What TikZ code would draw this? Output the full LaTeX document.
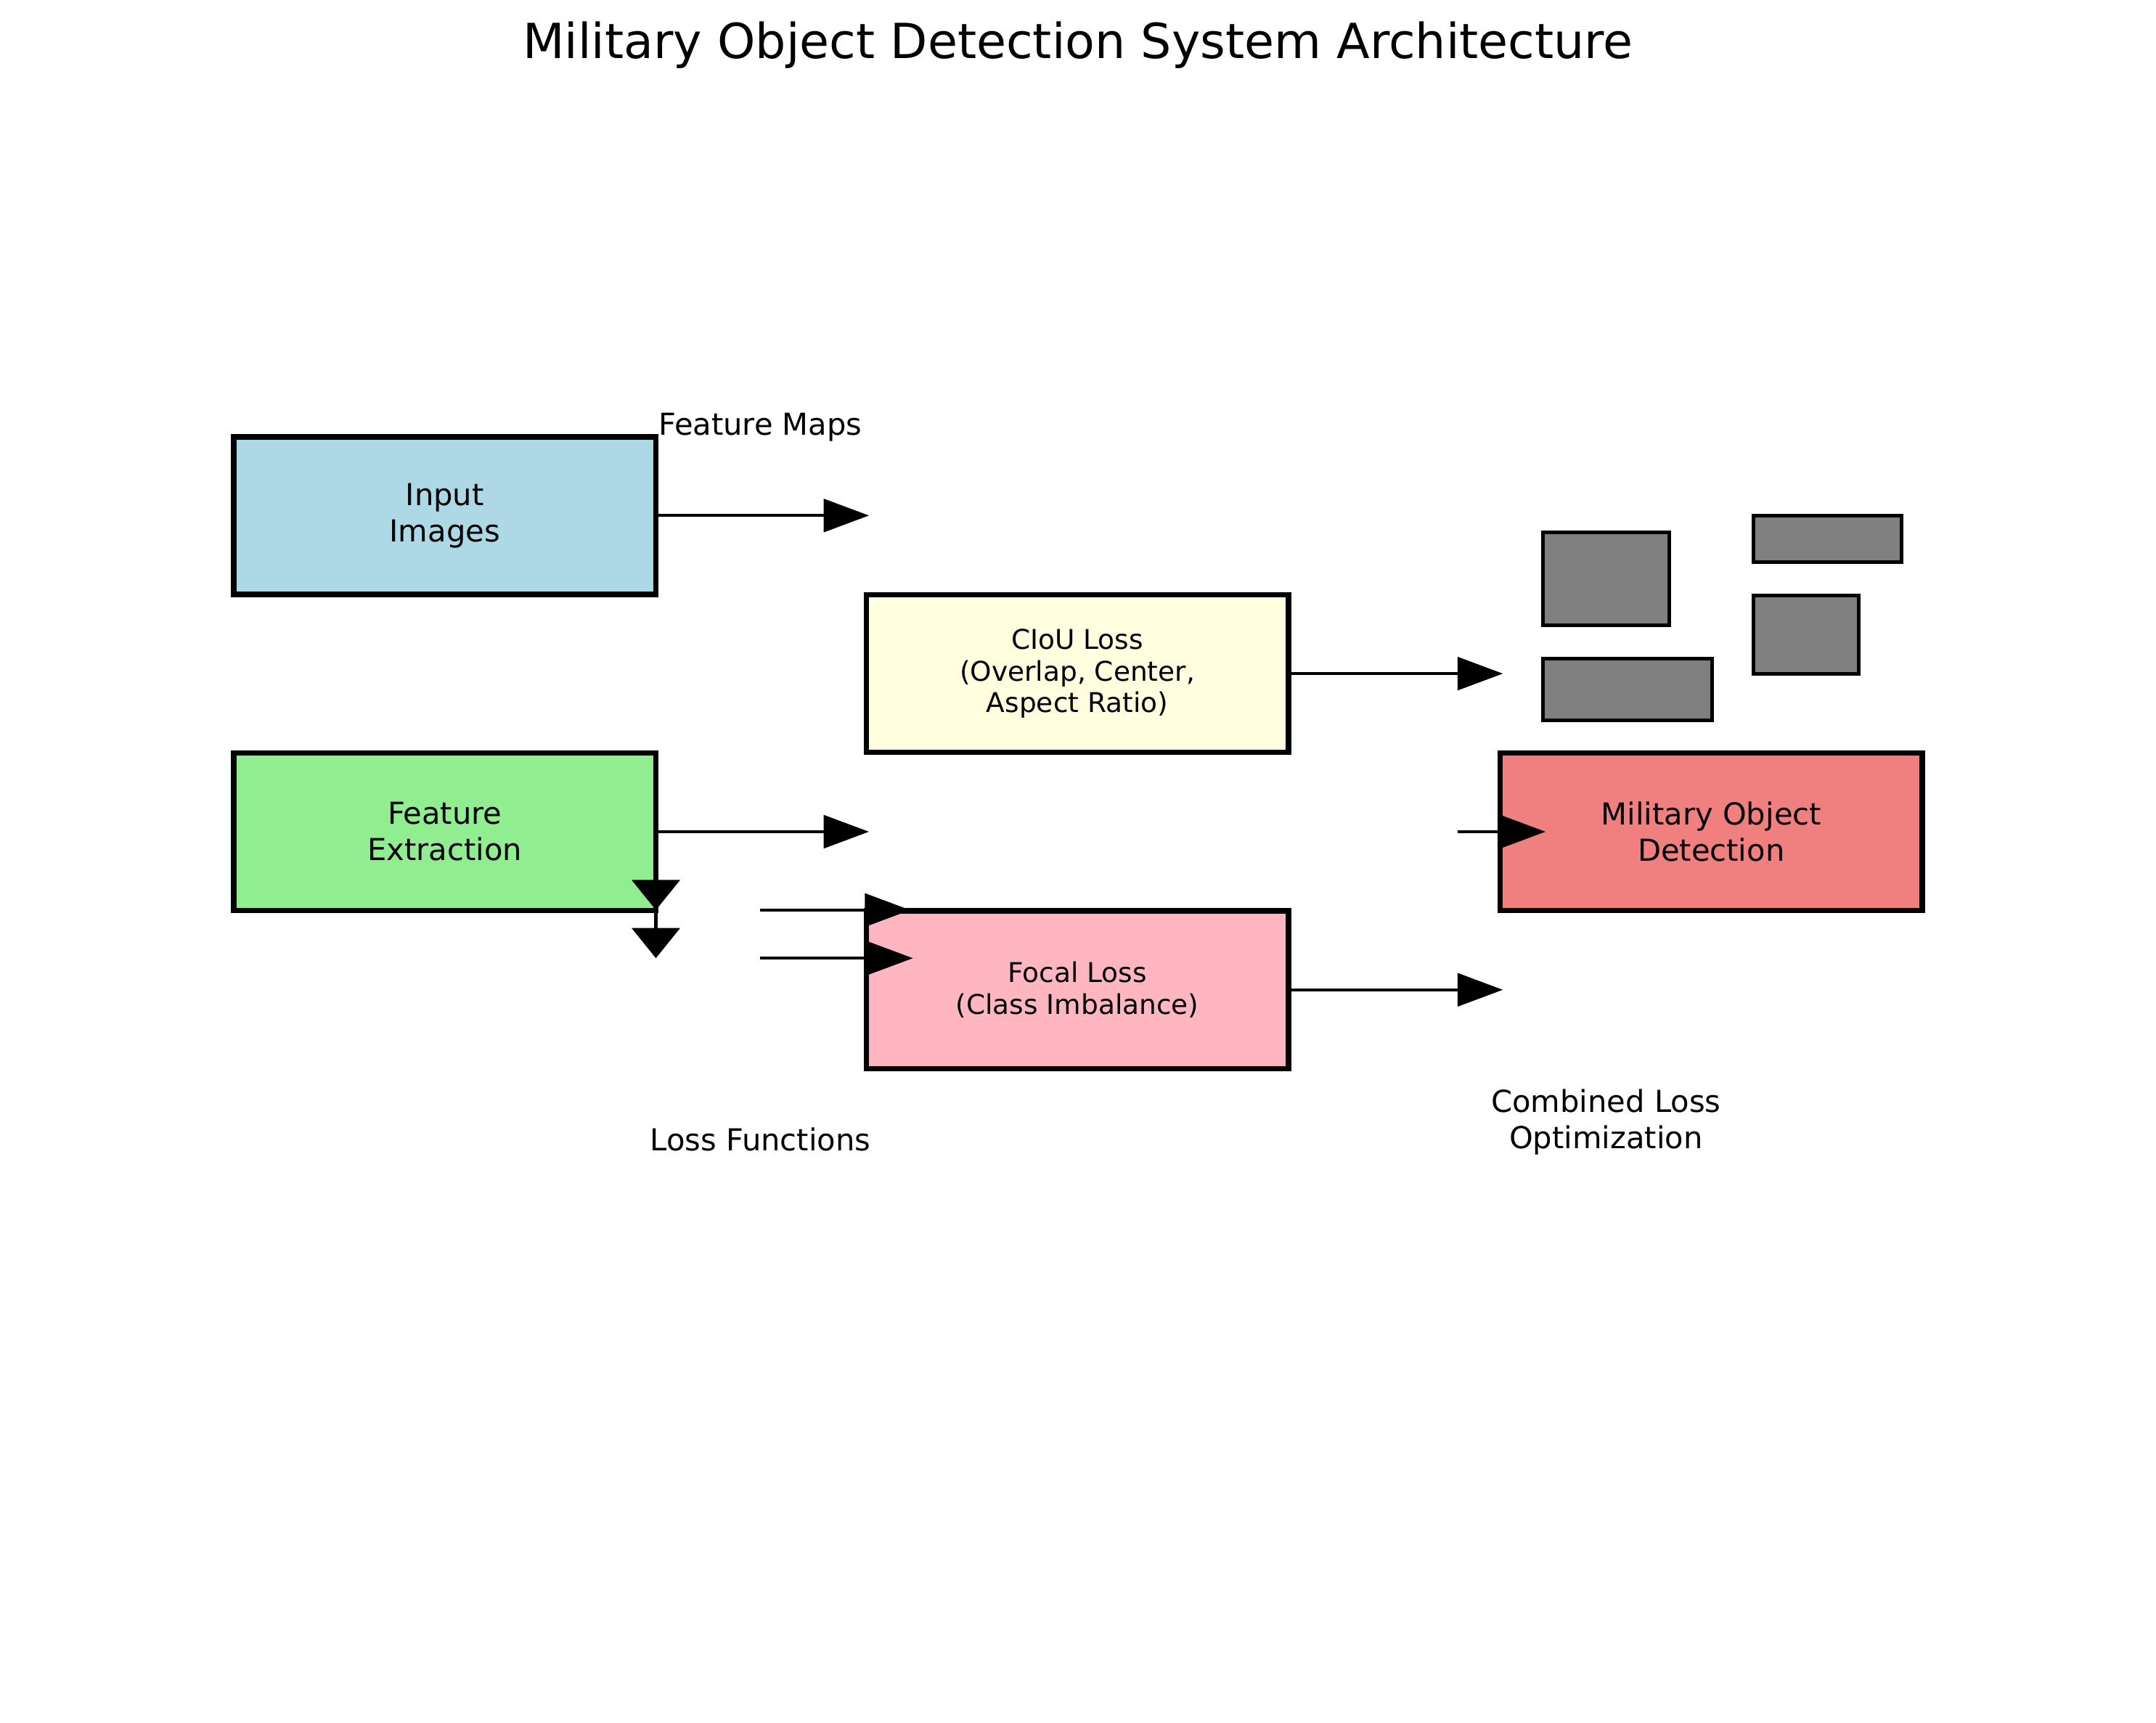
\documentclass[tikz,border=0pt]{standalone}
\usepackage{fontspec}
\setmainfont{DejaVu Sans}
\usetikzlibrary{arrows.meta}
\definecolor{lblue}{HTML}{ADD8E6}
\definecolor{lgreen}{HTML}{90EE90}
\definecolor{lyellow}{HTML}{FFFFE0}
\definecolor{lpink}{HTML}{FFB6C1}
\definecolor{lcoral}{HTML}{F08080}
\definecolor{gbox}{HTML}{808080}
\tikzset{
  box/.style={draw, line width=1.8pt, minimum width=139.56pt, minimum height=52.1pt,
    inner sep=0pt, align=center, font=\fontsize{10}{12}\selectfont},
  smallbox/.style={box, font=\fontsize{9}{10.5}\selectfont},
  lbl/.style={align=center, inner sep=0pt, font=\fontsize{10}{12}\selectfont},
  harrow/.style={-{Triangle[length=15pt,width=10.9pt]}, line width=1pt},
  varrow/.style={-{Triangle[length=10pt,width=15.9pt]}, line width=1pt},
  objbox/.style={draw, line width=1.2pt, fill=gbox}
}
\begin{document}
\begin{tikzpicture}[x=0.4546pt, y=-0.4546pt]
\useasboundingbox (0,-1) rectangle (1568,1252);
\node[font=\fontsize{16}{19}\selectfont, inner sep=0pt] (title) at (784,32) {Military Object Detection System Architecture};

\node[box, fill=lblue] (input) at (323.5,374) {Input\\Images};
\node[box, fill=lgreen] (feat) at (323.5,604) {Feature\\Extraction};
\node[smallbox, fill=lyellow] (ciou) at (783.5,489) {CIoU Loss\\(Overlap, Center,\\Aspect Ratio)};
\node[smallbox, fill=lpink] (focal) at (783.5,719) {Focal Loss\\(Class Imbalance)};
\node[box, fill=lcoral] (det) at (1244.5,604) {Military Object\\Detection};

\node[lbl] (fmaps) at (553,310) {Feature Maps};
\node[lbl] (lossf) at (553,828) {Loss Functions};
\node[lbl] (comb) at (1168,815) {Combined Loss\\Optimization};

\draw[objbox] (1122,386) rectangle (1214,454);
\draw[objbox] (1275,374) rectangle (1383,408);
\draw[objbox] (1275,432) rectangle (1352,489);
\draw[objbox] (1122,478) rectangle (1245,523);

\coordinate (a1) at (632,374);
\coordinate (a2) at (632,604);
\coordinate (a3) at (1093,489);
\coordinate (a4) at (1093,719);
\coordinate (b5) at (1060,604);
\coordinate (a5) at (1124,604);
\coordinate (b6) at (477,628);
\coordinate (a6) at (477,661);
\coordinate (b7) at (477,661);
\coordinate (a7) at (477,696);
\coordinate (b8) at (553,661);
\coordinate (a8) at (662,661);
\coordinate (b9) at (553,696);
\coordinate (a9) at (664,696);

\draw[harrow] (input.east) -- (a1);
\draw[harrow] (feat.east) -- (a2);
\draw[harrow] (ciou.east) -- (a3);
\draw[harrow] (focal.east) -- (a4);
\draw[harrow] (b5) -- (a5);
\draw[varrow] (b6) -- (a6);
\draw[varrow] (b7) -- (a7);
\draw[harrow] (b8) -- (a8);
\draw[harrow] (b9) -- (a9);
\end{tikzpicture}
\end{document}
